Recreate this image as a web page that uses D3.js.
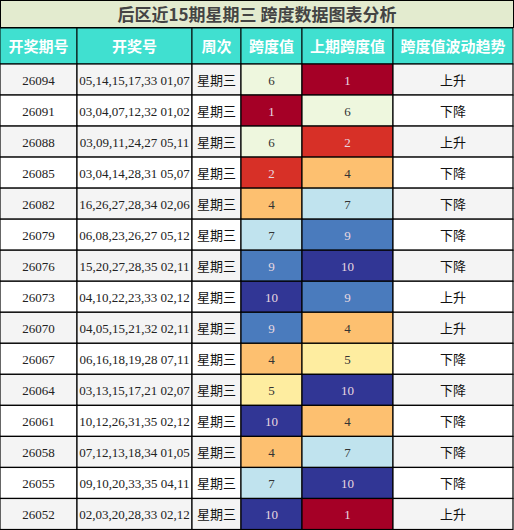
<!DOCTYPE html><html><head><meta charset="utf-8">
<script src="https://cdn.jsdelivr.net/npm/d3@7"></script>
<style>body{margin:0;background:#fff}</style></head><body><svg id="c" width="514" height="530"></svg>
<script>
const title="后区近15期星期三 跨度数据图表分析";
const headers=["开奖期号","开奖号","周次","跨度值","上期跨度值","跨度值波动趋势"];
const periods=["26094","26091","26088","26085","26082","26079","26076","26073","26070","26067","26064","26061","26058","26055","26052"];
const numbers=["05,14,15,17,33 01,07","03,04,07,12,32 01,02","03,09,11,24,27 05,11","03,04,14,28,31 05,07","16,26,27,28,34 02,06","06,08,23,26,27 05,12","15,20,27,28,35 02,11","04,10,22,23,33 02,12","04,05,15,21,32 02,11","06,16,18,19,28 07,11","03,13,15,17,21 02,07","10,12,26,31,35 02,12","07,12,13,18,34 01,05","09,10,20,33,35 04,11","02,03,20,28,33 02,12"];
const weekday="星期三";
const spans=[6,1,6,2,4,7,9,10,9,4,5,10,4,7,10];
const prevSpans=[1,6,2,4,7,9,10,9,4,5,10,4,7,10,1];
const trends=["上升","下降","上升","下降","下降","下降","下降","上升","上升","下降","下降","下降","下降","下降","上升"];
const colorMap={1:"#a50026",2:"#d73027",4:"#fdc070",5:"#feeda0",6:"#eef7de",7:"#c0e3ee",9:"#4a7bbd",10:"#313695"};
const light=v=>[1,2,9,10].includes(v);
const svg=d3.select("#c");
const cols=[0,77,192,241,302,393,513];
const x=i=>cols[i], w=i=>cols[i+1]-cols[i];
const y=d3.scaleBand().domain(d3.range(15)).range([64,529.5]).padding(0);
const cjk="'Noto Sans CJK SC',sans-serif", serif="'Liberation Serif',serif";
svg.append("rect").attr("x",0.5).attr("y",0.5).attr("width",513).attr("height",27).attr("fill","#e3ebcf").attr("stroke","#000");
svg.append("text").attr("x",257).attr("y",21).attr("text-anchor","middle").attr("font-family",cjk).attr("font-weight","bold").attr("font-size",17).attr("fill","#444").text(title);
headers.forEach((h,i)=>{
 svg.append("rect").attr("x",x(i)).attr("y",28).attr("width",w(i)).attr("height",36).attr("fill","#40e0d0").attr("stroke","#000");
 svg.append("text").attr("x",x(i)+w(i)/2).attr("y",52).attr("text-anchor","middle").attr("font-family",cjk).attr("font-weight","bold").attr("font-size",15).attr("fill","#fff").text(h);
});
periods.forEach((p,r)=>{
 const yy=y(r),hh=y.bandwidth(),bg=r%2?"#fff":"#f4f4f4";
 const cells=[[p,bg,"#222",serif],[numbers[r],bg,"#222",serif],[weekday,bg,"#111",cjk],[spans[r],colorMap[spans[r]],light(spans[r])?"#e8d8e0":"#333",serif],[prevSpans[r],colorMap[prevSpans[r]],light(prevSpans[r])?"#e8d8e0":"#333",serif],[trends[r],bg,"#111",cjk]];
 cells.forEach((c,i)=>{
  svg.append("rect").attr("x",x(i)).attr("y",yy).attr("width",w(i)).attr("height",hh).attr("fill",c[1]).attr("stroke","#000").attr("stroke-width",1.2);
  svg.append("text").attr("x",x(i)+w(i)/2).attr("y",yy+hh/2+5).attr("text-anchor","middle").attr("font-family",c[3]).attr("font-size",i==2||i==5?13:13).attr("fill",c[2]).text(c[0]);
 });
});
</script></body></html>
